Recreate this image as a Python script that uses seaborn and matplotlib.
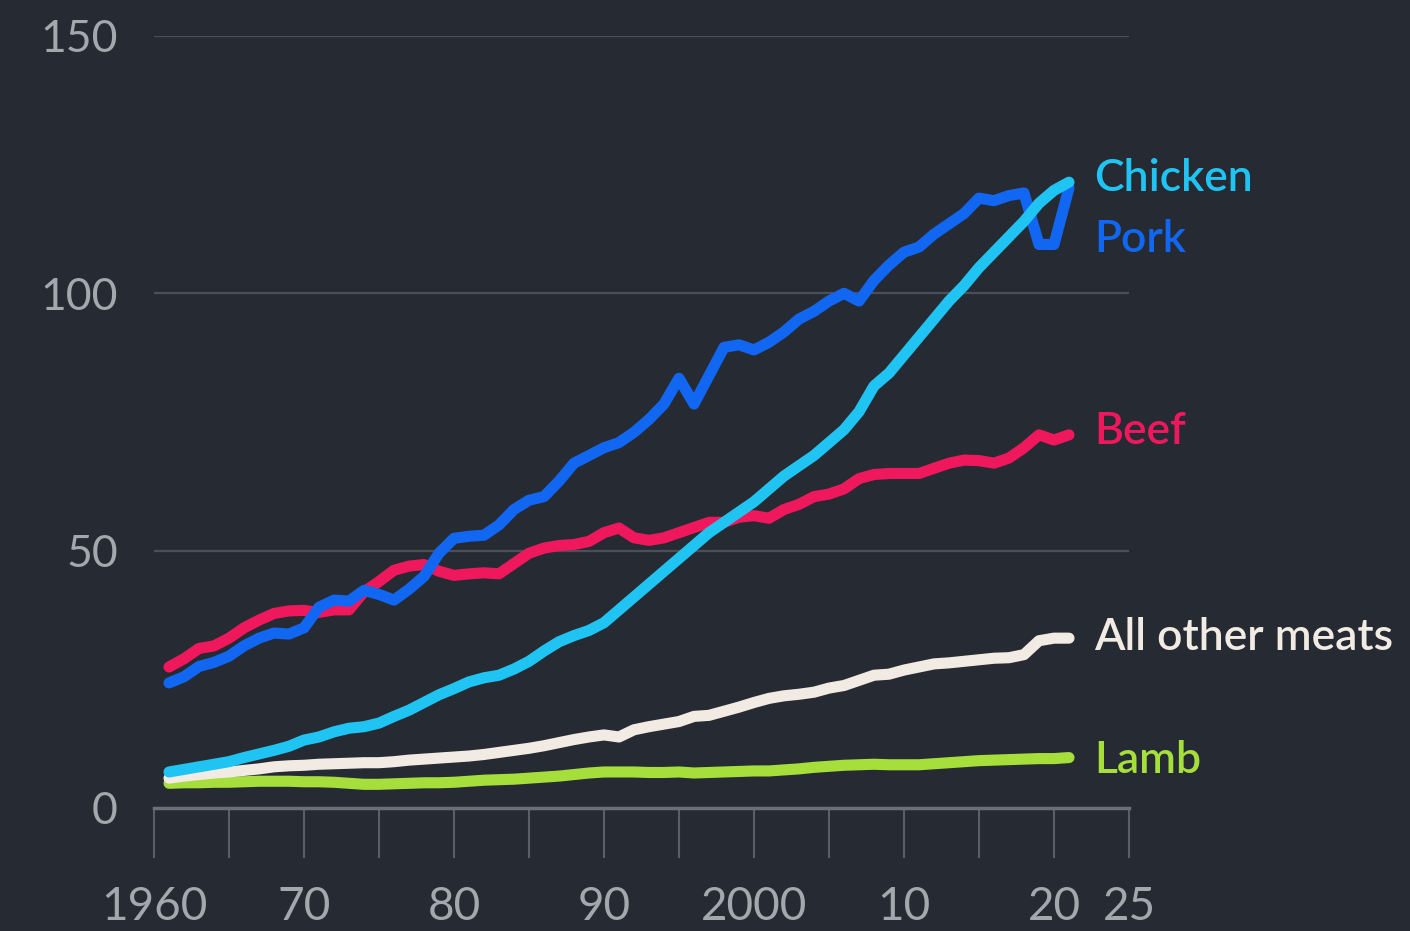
import numpy as np
import pandas as pd
import matplotlib
matplotlib.use("Agg")
import matplotlib.pyplot as plt
import seaborn as sns

years = list(range(1961, 2022))

pork = [24.3, 25.5, 27.5, 28.3, 29.5, 31.5, 33.0, 34.0, 33.8, 35.0,
        39.0, 40.4, 40.2, 42.3, 41.5, 40.4, 42.5, 45.0, 49.5, 52.4,
        52.8, 53.0, 55.0, 58.0, 59.8, 60.5, 63.5, 67.0, 68.5, 70.0,
        71.0, 73.0, 75.5, 78.5, 83.5, 78.5, 84.0, 89.5, 90.0, 89.0,
        90.5, 92.5, 95.0, 96.5, 98.5, 100.0, 98.5, 102.5, 105.5, 108.0,
        109.0, 111.5, 113.5, 115.5, 118.5, 118.0, 119.0, 119.5, 109.5, 109.5,
        120.5]

chicken = [7.0, 7.5, 8.0, 8.5, 9.0, 9.8, 10.5, 11.2, 12.0, 13.2,
           13.8, 14.8, 15.5, 15.8, 16.5, 17.8, 19.0, 20.5, 22.0, 23.2,
           24.5, 25.3, 25.8, 27.0, 28.5, 30.5, 32.3, 33.5, 34.5, 36.0,
           38.5, 41.0, 43.5, 46.0, 48.5, 51.0, 53.5, 55.5, 57.5, 59.5,
           62.0, 64.5, 66.5, 68.5, 71.0, 73.5, 77.0, 82.0, 84.5, 88.0,
           91.5, 95.0, 98.5, 101.5, 105.0, 108.0, 111.0, 114.0, 117.5, 120.0,
           121.6]

beef = [27.4, 29.0, 31.0, 31.5, 33.0, 35.0, 36.5, 37.8, 38.3, 38.4,
        38.0, 38.5, 38.5, 42.0, 44.0, 46.2, 47.0, 47.3, 46.0, 45.2,
        45.5, 45.7, 45.5, 47.5, 49.5, 50.5, 51.0, 51.2, 51.8, 53.5,
        54.4, 52.5, 52.0, 52.5, 53.5, 54.5, 55.5, 55.5, 56.5, 56.8,
        56.3, 58.0, 59.0, 60.5, 61.0, 62.0, 64.0, 64.8, 65.0, 65.0,
        65.0, 66.0, 67.0, 67.6, 67.5, 67.0, 68.0, 70.0, 72.5, 71.5,
        72.5]

other = [5.8, 6.2, 6.5, 6.8, 7.0, 7.3, 7.6, 8.0, 8.2, 8.3,
         8.5, 8.6, 8.7, 8.8, 8.8, 9.0, 9.3, 9.5, 9.7, 9.9,
         10.1, 10.4, 10.8, 11.2, 11.6, 12.1, 12.7, 13.3, 13.8, 14.2,
         13.8, 15.2, 15.8, 16.3, 16.8, 17.8, 18.0, 18.8, 19.6, 20.5,
         21.3, 21.8, 22.1, 22.5, 23.3, 23.8, 24.8, 25.8, 26.0, 26.8,
         27.4, 28.0, 28.2, 28.5, 28.8, 29.1, 29.2, 29.8, 32.5, 33.0,
         33.0]

lamb = [4.8, 4.9, 4.9, 5.0, 5.0, 5.1, 5.2, 5.2, 5.2, 5.1,
        5.1, 5.0, 4.8, 4.6, 4.6, 4.7, 4.8, 4.9, 4.9, 5.0,
        5.2, 5.4, 5.5, 5.6, 5.8, 6.0, 6.2, 6.5, 6.8, 7.0,
        7.0, 7.0, 6.9, 6.9, 7.0, 6.8, 6.9, 7.0, 7.1, 7.2,
        7.2, 7.4, 7.6, 7.9, 8.1, 8.3, 8.4, 8.5, 8.4, 8.4,
        8.4, 8.6, 8.8, 9.0, 9.2, 9.3, 9.4, 9.5, 9.6, 9.6,
        9.8]

series_names = ["Lamb", "All other meats", "Beef", "Pork", "Chicken"]
label_y = [9.3, 33.2, 73.1, 110.4, 122.4]
x_ticks = [1960, 1970, 1980, 1990, 2000, 2010, 2020, 2025]
x_tick_labels = ["1960", "70", "80", "90", "2000", "10", "20", "25"]
y_ticks = [0, 50, 100, 150]

colors = {"Lamb": "#a6de3c", "All other meats": "#f2ebe3", "Beef": "#f0185c",
          "Pork": "#1167f2", "Chicken": "#20c4f2"}

values = {"Lamb": lamb, "All other meats": other, "Beef": beef,
          "Pork": pork, "Chicken": chicken}

df = pd.concat([pd.DataFrame({"year": years, "value": values[n], "meat": n})
                for n in series_names], ignore_index=True)

BG = "#262a33"
sns.set_style("dark")
plt.rcParams["font.family"] = ["Lato", "DejaVu Sans"]

fig = plt.figure(figsize=(14.10, 9.31), dpi=100, facecolor=BG)
ax = fig.add_axes([154 / 1410, 1 - 808 / 931, (1129 - 154) / 1410, (808 - 36) / 931])
ax.set_facecolor(BG)

sns.lineplot(data=df, x="year", y="value", hue="meat", hue_order=series_names,
             palette=colors, linewidth=8, legend=False, ax=ax,
             solid_capstyle="round", solid_joinstyle="round")

ax.set_xlim(1960, 2025)
ax.set_ylim(0, 150)
ax.set_xlabel("")
ax.set_ylabel("")

for y in y_ticks[1:]:
    ax.axhline(y, color="#4b4f59", lw=1.6, zorder=0)

for s in ["top", "right", "left"]:
    ax.spines[s].set_visible(False)
ax.spines["bottom"].set_color("#6b6f78")
ax.spines["bottom"].set_linewidth(2.5)

ax.set_yticks(y_ticks)
ax.set_yticklabels([str(v) for v in y_ticks])
ax.tick_params(axis="y", length=0, pad=26, labelsize=32, labelcolor="#a3a7ae")

ax.set_xticks(x_ticks)
ax.set_xticklabels(x_tick_labels)
ax.set_xticks(list(range(1960, 2026, 5)), minor=True)
ax.tick_params(axis="x", which="both", bottom=True, length=36, width=1.5,
               color="#5a5e67", direction="out")
ax.tick_params(axis="x", which="major", pad=20, labelsize=33, labelcolor="#a3a7ae")

for n, ly in zip(series_names, label_y):
    ax.text(2022.7, ly, n, color=colors[n], fontsize=32, fontweight="semibold",
            va="center", ha="left", clip_on=False)

fig.savefig("out.png", dpi=100, facecolor=BG)
